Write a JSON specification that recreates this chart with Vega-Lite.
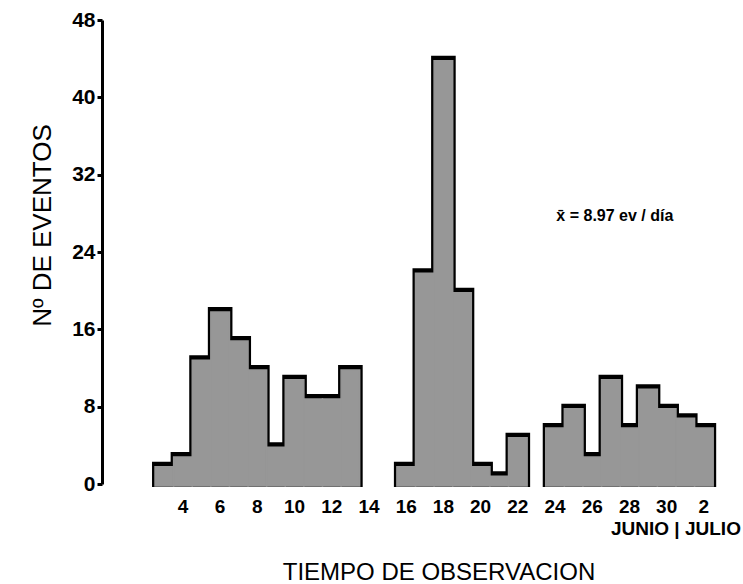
{
  "$schema": "https://vega.github.io/schema/vega-lite/v6.json",
  "width": 627,
  "height": 464,
  "autosize": "none",
  "padding": {"left": 102, "top": 20, "right": 14, "bottom": 100},
  "background": "white",
  "config": {"view": {"stroke": null}, "font": "Liberation Sans"},
  "datasets": {
    "eventos": [
      {"dia": 3, "eventos": 2},
      {"dia": 4, "eventos": 3},
      {"dia": 5, "eventos": 13},
      {"dia": 6, "eventos": 18},
      {"dia": 7, "eventos": 15},
      {"dia": 8, "eventos": 12},
      {"dia": 9, "eventos": 4},
      {"dia": 10, "eventos": 11},
      {"dia": 11, "eventos": 9},
      {"dia": 12, "eventos": 9},
      {"dia": 13, "eventos": 12},
      {"dia": 16, "eventos": 2},
      {"dia": 17, "eventos": 22},
      {"dia": 18, "eventos": 44},
      {"dia": 19, "eventos": 20},
      {"dia": 20, "eventos": 2},
      {"dia": 21, "eventos": 1},
      {"dia": 22, "eventos": 5},
      {"dia": 24, "eventos": 6},
      {"dia": 25, "eventos": 8},
      {"dia": 26, "eventos": 3},
      {"dia": 27, "eventos": 11},
      {"dia": 28, "eventos": 6},
      {"dia": 29, "eventos": 10},
      {"dia": 30, "eventos": 8},
      {"dia": 31, "eventos": 7},
      {"dia": 32, "eventos": 6}
    ]
  },
  "layer": [
    {
      "data": {"name": "eventos"},
      "mark": {"type": "bar", "fill": "black", "stroke": "black", "strokeWidth": 6, "strokeJoin": "miter"},
      "encoding": {
        "x": {
          "field": "dia",
          "type": "ordinal",
          "scale": {
            "domain": [1,2,3,4,5,6,7,8,9,10,11,12,13,14,15,16,17,18,19,20,21,22,23,24,25,26,27,28,29,30,31,32],
            "paddingInner": 0,
            "paddingOuter": 0.85
          },
          "axis": {
            "values": [4,6,8,10,12,14,16,18,20,22,24,26,28,30,31,32],
            "labelExpr": "datum.value == 31 ? ['', 'JUNIO | JULIO'] : (datum.value == 32 ? '2' : datum.label)",
            "labelOffset": {"condition": {"test": "datum.value == 31", "value": -9.3}, "value": 0},
            "domain": false,
            "ticks": false,
            "tickSize": 0,
            "grid": false,
            "labelAngle": 0,
            "labelPadding": 13,
            "labelFontSize": 19,
            "labelFontWeight": "bold",
            "labelColor": "black",
            "labelLineHeight": 22,
            "labelOverlap": false,
            "labelBound": false,
            "title": "TIEMPO DE OBSERVACION",
            "titleFontSize": 24,
            "titleFontWeight": "normal",
            "titleColor": "black",
            "titleX": 336.5,
            "titleY": 95,
            "titleAlign": "center",
            "titleBaseline": "alphabetic"
          }
        },
        "y": {
          "field": "eventos",
          "type": "quantitative",
          "scale": {"domain": [0, 48], "nice": false},
          "axis": {
            "values": [0, 8, 16, 24, 32, 40, 48],
            "grid": false,
            "domainColor": "black",
            "domainWidth": 3,
            "tickColor": "black",
            "tickWidth": 3,
            "tickSize": 5,
            "labelPadding": 2,
            "labelFontSize": 21,
            "labelFontWeight": "bold",
            "labelColor": "black",
            "title": "Nº DE EVENTOS",
            "titleFontSize": 26,
            "titleFontWeight": "normal",
            "titleColor": "black",
            "titleX": -52,
            "titleY": 205,
            "titleAlign": "center",
            "titleBaseline": "alphabetic"
          }
        }
      }
    },
    {
      "data": {"name": "eventos"},
      "mark": {"type": "bar", "fill": "#979797", "stroke": "#979797", "strokeWidth": 1.5, "yOffset": 2, "y2Offset": -2},
      "encoding": {
        "x": {"field": "dia", "type": "ordinal"},
        "y": {"field": "eventos", "type": "quantitative"}
      }
    },
    {
      "data": {"values": [{}]},
      "mark": {"type": "text", "text": "x̄ = 8.97 ev / día", "fontSize": 16, "fontWeight": "bold", "color": "black", "baseline": "middle", "align": "center", "dx": 4},
      "encoding": {
        "x": {"datum": 27, "type": "ordinal"},
        "y": {"datum": 27.7, "type": "quantitative"}
      }
    }
  ]
}
